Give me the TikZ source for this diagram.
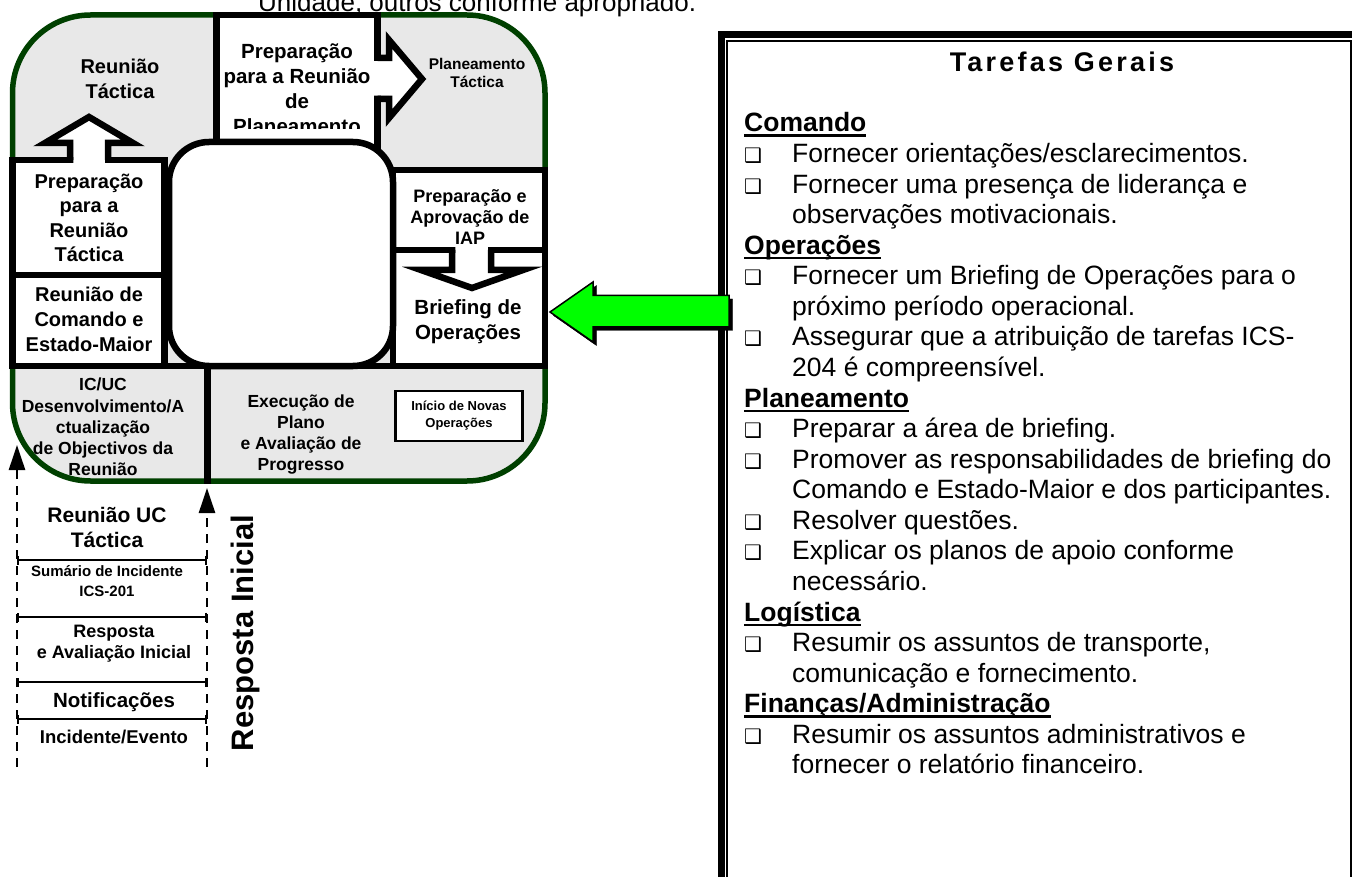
\documentclass[tikz,border=0pt]{standalone}
\usepackage{fontspec}
\setmainfont{Liberation Sans}
\newfontfamily\dvs{DejaVu Sans}
\usetikzlibrary{arrows.meta}

\definecolor{cyclegray}{RGB}{232,232,232}
\definecolor{cyclegreen}{RGB}{0,64,0}
\definecolor{briefgreen}{RGB}{0,255,0}

\newsavebox\headbox
\newcommand\uhead[1]{\leavevmode\sbox\headbox{\bfseries #1}\rlap{\rule[-5pt]{\wd\headbox}{2.5pt}}\usebox\headbox}
\newcommand\bul{\leavevmode\makebox[48pt][l]{\dvs\fontsize{20}{20}\selectfont ❑}}
\newcommand\cont{\leavevmode\hspace*{48pt}}

\tikzset{
  lbl/.style 2 args={align=center, inner sep=0pt, font=\fontsize{#1}{#2}\selectfont\bfseries},
  stagebox/.style={draw=black, line width=6.5pt, fill=white},
  blockarrow/.style={draw=black, line width=6.5pt, line join=miter},
  tickline/.style={line width=2pt, {Bar[width=9pt]}-{Bar[width=9pt]}},
  flowline/.style={line width=2.5pt, dash pattern=on 9pt off 7pt, -{Triangle[length=25pt,width=16pt]}},
}

\begin{document}
\begin{tikzpicture}[x=1pt, y=-1pt]
\path[use as bounding box] (0,0) rectangle (1352,877);
\clip (0,0) rectangle (1352,877);

% line of text cut by the top edge
\node[anchor=base west, inner sep=0pt, font=\fontsize{26}{30}\selectfont] (unit) at (258,12) {Unidade, outros conforme apropriado.};

% planning cycle
\draw[cyclegreen, line width=5.5pt, fill=cyclegray, rounded corners=78pt] (12.5,15) rectangle (545,481);

\draw[stagebox] (216.5,15) rectangle (377.5,150);
\fill[white] (374,61.25) -- (389,61.25) -- (389,40) -- (422,79) -- (389,118) -- (389,95.75) -- (374,95.75) -- cycle;
\draw[blockarrow] (377.5,58) -- (389,58) -- (389,40) -- (422,79) -- (389,118) -- (389,99) -- (377.5,99);

\draw[stagebox] (12.5,160) rectangle (164.5,275);
\draw[stagebox] (12.5,275) rectangle (164.5,366);
\fill[white] (73.25,164) -- (73.25,143) -- (45,143) -- (89,117) -- (133,143) -- (104.75,143) -- (104.75,164) -- cycle;
\draw[blockarrow] (70,160) -- (70,143) -- (45,143) -- (89,117) -- (133,143) -- (108,143) -- (108,160);

\draw[stagebox] (393,170) rectangle (545,250);
\draw[stagebox] (393,250) rectangle (545,366);
\fill[white] (455.25,246) -- (455.25,270) -- (421,270) -- (472,288) -- (523,270) -- (487.75,270) -- (487.75,246) -- cycle;
\draw[blockarrow] (452,250) -- (452,270) -- (421,270) -- (472,288) -- (523,270) -- (491,270) -- (491,250);

\draw[stagebox, rounded corners=40pt] (169,142) rectangle (393,366);
\draw[line width=6.5pt] (12.5,366) -- (545,366);
\draw[line width=6.5pt] (207.5,366) -- (207.5,484);

\node[draw, line width=2.5pt, fill=white, minimum width=127pt, minimum height=50pt, lbl={13}{17}] (novas) at (459,416) {Início de Novas\\Operações};

% stage labels
\node[lbl={20}{25}] (rtact) at (120,79) {Reunião\\Táctica};
\begin{scope}
  \clip (220,18) rectangle (374,129);
  \node[lbl={20.5}{25}] (prepplan) at (297,89) {Preparação\\para a Reunião\\de\\Planeamento};
\end{scope}
\node[lbl={15.5}{18}] (plantact) at (477,72.5) {Planeamento\\Táctica};
\node[lbl={18}{21}] (prepiap) at (470,217) {Preparação e\\Aprovação de\\IAP};
\node[lbl={20}{24.5}] (preptact) at (89,218) {Preparação\\para a\\Reunião\\Táctica};
\node[lbl={20}{25}] (cmdmeet) at (89,319.5) {Reunião de\\Comando e\\Estado-Maior};
\node[lbl={20.5}{25}] (briefops) at (468,322) {Briefing de\\Operações};
\node[lbl={17.5}{21.2}] (objectives) at (103,427) {IC/UC\\Desenvolvimento/A\\ctualização\\de Objectivos da\\Reunião};
\node[lbl={17.5}{21}] (execplan) at (301,435) {Execução de\\Plano\\e Avaliação de\\Progresso};

% initial response
\coordinate (lfoot) at (17,767);
\coordinate (lhead) at (17,445);
\coordinate (rfoot) at (207,767);
\coordinate (rhead) at (207,488);
\draw[flowline] (lfoot) -- (lhead);
\draw[flowline] (rfoot) -- (rhead);
\foreach \y in {560,617,682,719}
  \draw[tickline] (17,\y) -- (207,\y);

\node[lbl={21}{25}] (ucmeet) at (107,527) {Reunião UC\\Táctica};
\node[lbl={15}{20}] (summary) at (107,581.5) {Sumário de Incidente\\ICS-201};
\node[lbl={18}{21}] (initresp) at (114,644) {Resposta\\e Avaliação Inicial};
\node[lbl={20.5}{25}] (notif) at (114,702) {Notificações};
\node[lbl={18.5}{22}] (incident) at (114,737) {Incidente/Evento};
\node[lbl={31}{36}, rotate=90] (respinit) at (245,633) {Resposta Inicial};

% general tasks panel
\draw[line width=6.5pt] (721.5,877) -- (721.5,34.5) -- (1352,34.5);
\draw[line width=2pt] (727,877) -- (727,41) -- (1350.5,41) -- (1350.5,877);

\node[font=\fontsize{27}{30}\selectfont\bfseries\addfontfeatures{LetterSpace=12}] (title) at (1062,62) {Tarefas Gerais};

\node[anchor=base west, inner sep=0pt] (tasks) at (744,132) {\parbox[t]{620pt}{\fontsize{26.5}{30.57}\selectfont
\uhead{Comando}\par
\bul Fornecer orientações/esclarecimentos.\par
\bul Fornecer uma presença de liderança e\par
\cont observações motivacionais.\par
\uhead{Operações}\par
\bul Fornecer um Briefing de Operações para o\par
\cont próximo período operacional.\par
\bul Assegurar que a atribuição de tarefas ICS-\par
\cont 204 é compreensível.\par
\uhead{Planeamento}\par
\bul Preparar a área de briefing.\par
\bul Promover as responsabilidades de briefing do\par
\cont Comando e Estado-Maior e dos participantes.\par
\bul Resolver questões.\par
\bul Explicar os planos de apoio conforme\par
\cont necessário.\par
\uhead{Logística}\par
\bul Resumir os assuntos de transporte,\par
\cont comunicação e fornecimento.\par
\uhead{Finanças/Administração}\par
\bul Resumir os assuntos administrativos e\par
\cont fornecer o relatório financeiro.}};

% arrow from the panel to the briefing
\filldraw[black, shift={(3.5,3.5)}] (550,312) -- (593,282) -- (593,295.5) -- (729,295.5) -- (729,327) -- (593,327) -- (593,342) -- cycle;
\filldraw[fill=briefgreen, draw=black, line width=1.5pt] (550,312) -- (593,282) -- (593,295.5) -- (729,295.5) -- (729,327) -- (593,327) -- (593,342) -- cycle;
\end{tikzpicture}
\end{document}
